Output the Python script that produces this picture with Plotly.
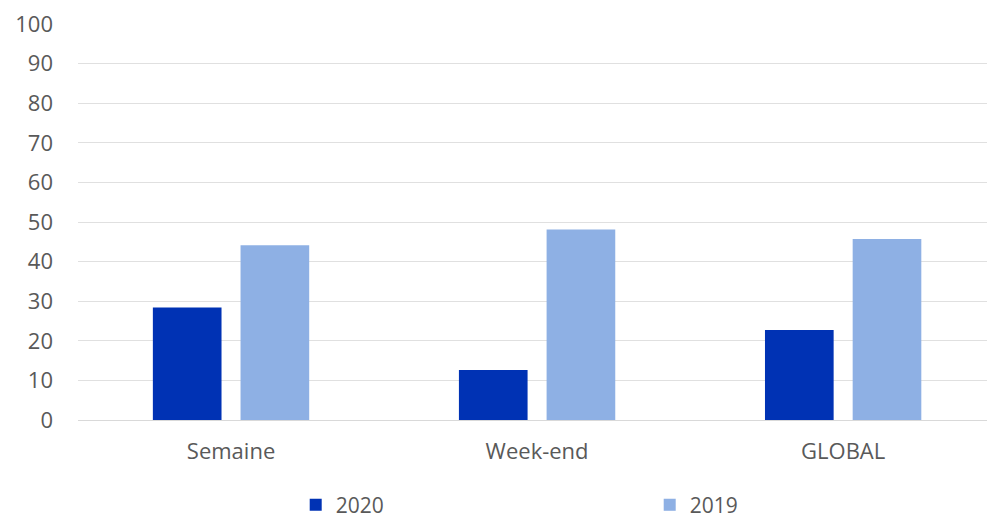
import plotly.graph_objects as go

categories = ["Semaine", "Week-end", "GLOBAL"]
values_2020 = [28.4, 12.6, 22.7]
values_2019 = [44.1, 48.1, 45.7]
y_ticks = [0, 10, 20, 30, 40, 50, 60, 70, 80, 90, 100]

FONT = "Open Sans"
TEXT = "#595959"

fig = go.Figure()
fig.add_trace(go.Bar(name="2020", x=categories, y=values_2020, marker_color="#0032B4",
                     marker_line_width=0))
fig.add_trace(go.Bar(name="2019", x=categories, y=values_2019, marker_color="#8EB0E4",
                     marker_line_width=0))

fig.update_layout(
    width=987, height=518,
    margin=dict(l=78, r=0, t=24, b=98, autoexpand=False),
    plot_bgcolor="white", paper_bgcolor="white",
    barmode="group", bargap=0.427, bargroupgap=0.217,
    font=dict(family=FONT, size=22, color=TEXT),
    showlegend=True,
    legend=dict(orientation="h", x=0.2395, y=-0.215, xanchor="left", yanchor="middle",
                entrywidth=309, entrywidthmode="pixels",
                font=dict(family=FONT, size=21, color=TEXT)),
    xaxis=dict(range=[-0.5, 2.47], showgrid=False, showline=False, ticks="",
               ticklabelstandoff=16,
               tickfont=dict(family=FONT, size=22, color=TEXT)),
    yaxis=dict(range=[0, 100], tickvals=y_ticks, showgrid=True, gridcolor="#E0E0E0",
               gridwidth=1, zeroline=True, zerolinecolor="#D9D9D9", zerolinewidth=1,
               showline=False, ticks="", ticklabelstandoff=24,
               tickfont=dict(family=FONT, size=22, color=TEXT)),
)

fig.write_html("out.html", config={"displayModeBar": False},
               post_script="document.body.style.margin='0';document.body.style.overflow='hidden';")
